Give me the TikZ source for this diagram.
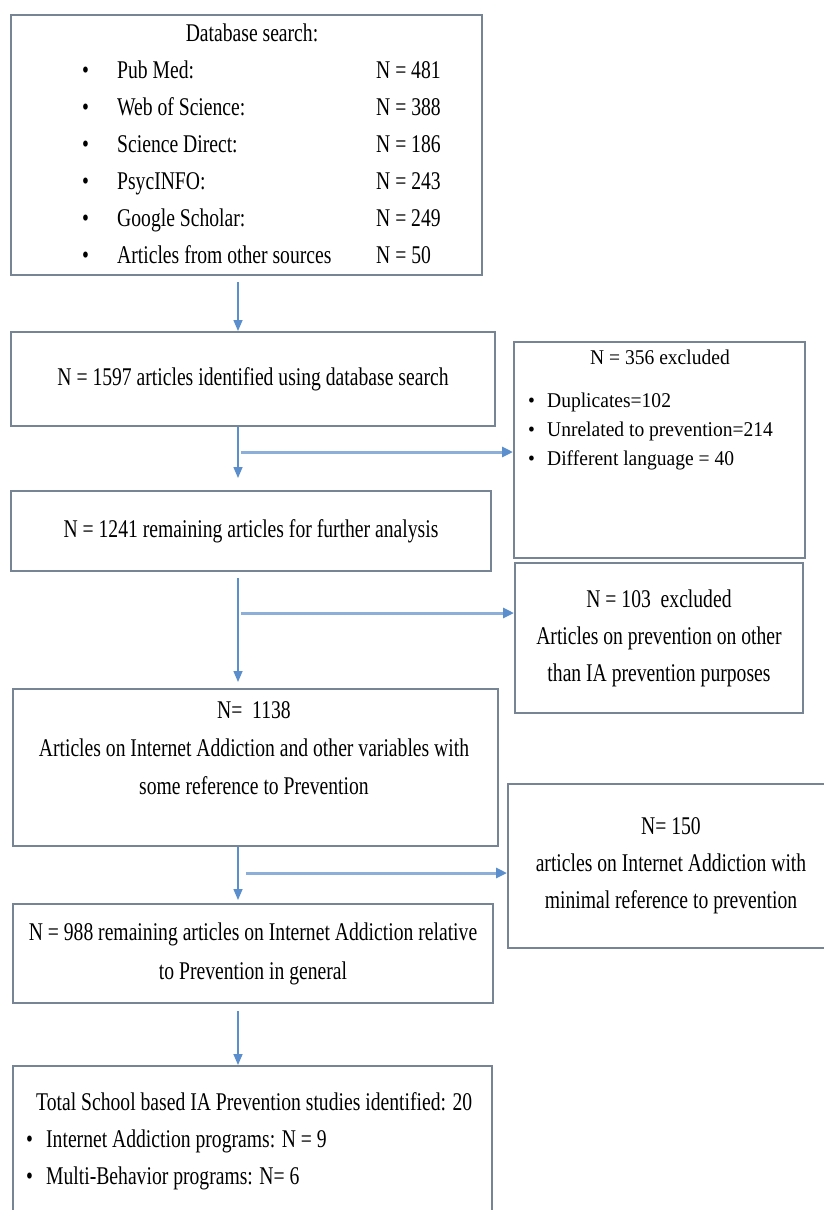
\documentclass[tikz,border=0pt]{standalone}
\usepackage{fontspec}
\setmainfont[FakeStretch=0.77]{Liberation Serif}
\newfontfamily\exclfont[FakeStretch=0.93]{Liberation Serif}
\usepackage{tikz}
\usetikzlibrary{positioning, arrows.meta}
\setlength{\tabcolsep}{0pt}
\definecolor{boxline}{RGB}{118,132,148}
\definecolor{flowblue}{RGB}{91,142,204}
\definecolor{branchblue}{RGB}{140,175,218}
\tikzstyle{box} = [rectangle, draw=boxline, line width=2pt, anchor=north west, inner sep=0pt, align=center, font=\fontsize{25.5}{37}\selectfont]
\tikzstyle{txt} = [inner sep=0pt, align=center, font=\fontsize{25.5}{37}\selectfont]
\tikzstyle{arrow} = [draw=flowblue, line width=1.5pt, -{Triangle[length=11pt,width=9pt]}]
\tikzstyle{branch} = [draw=branchblue, line width=3pt, -{Triangle[length=11pt,width=10pt,color=flowblue]}]

\begin{document}
\begin{tikzpicture}[x=1pt, y=-1pt]
    \useasboundingbox (0,0) rectangle (823,1210);

    % main column
    \node (db) [box, minimum width=471pt, minimum height=260pt] at (10,14) {};
    \node (found) [box, minimum width=484pt, minimum height=94pt] at (10,331) {N = 1597 articles identified using database search};
    \node (remaining) [box, minimum width=480pt, minimum height=80pt] at (10,490) {N = 1241 remaining articles for further analysis};
    \node (topic) [box, minimum width=485pt, minimum height=157pt] at (12,688) {};
    \node (general) [box, minimum width=480pt, minimum height=99pt, font=\fontsize{25.5}{39}\selectfont] at (12,903) {N = 988 remaining articles on Internet Addiction relative\\to Prevention in general};
    \node (final) [box, minimum width=479pt, minimum height=150pt] at (12,1065) {};

    % excluded boxes
    \node (dupl) [box, minimum width=291pt, minimum height=216pt] at (513,341) {};
    \node (offtopic) [box, minimum width=288pt, minimum height=150pt] at (514,562) {N = 103 \ excluded\\Articles on prevention on other\\than IA prevention purposes};
    \node (minimal) [box, minimum width=326pt, minimum height=164pt] at (507,783) {N= 150\\articles on Internet Addiction with\\minimal reference to prevention};

    % texts
    \node (dbtitle) [txt] at (252,33) {Database search:};
    \node (dblist) [txt, anchor=north west] at (82,52.6) {\begin{tabular}{@{}p{35pt}p{259pt}l@{}}
        • & Pub Med: & N = 481\\
        • & Web of Science: & N = 388\\
        • & Science Direct: & N = 186\\
        • & PsycINFO: & N = 243\\
        • & Google Scholar: & N = 249\\
        • & Articles from other sources & N = 50
    \end{tabular}};
    \node (dupltitle) [txt, font=\exclfont\fontsize{21}{29}\selectfont] at (660,357) {N = 356 excluded};
    \node (dupllist) [txt, anchor=north west, font=\exclfont\fontsize{21}{29}\selectfont] at (528,386.7) {\begin{tabular}{@{}p{19pt}l@{}}
        • & Duplicates=102\\
        • & Unrelated to prevention=214\\
        • & Different language = 40
    \end{tabular}};
    \node (topictext) [txt, font=\fontsize{25.5}{38}\selectfont] at (254,748) {N= \ 1138\\Articles on Internet Addiction and other variables with\\some reference to Prevention};
    \node (finaltext) [txt, anchor=north west] at (26,1084.6) {\begin{tabular}{@{}p{20pt}l@{}}
        \multicolumn{2}{@{\hspace{10pt}}l@{}}{Total School based IA Prevention studies identified: 20}\\
        • & Internet Addiction programs: N = 9\\
        • & Multi-Behavior programs: N= 6
    \end{tabular}};

    % connectors
    \coordinate (spine) at (238,0);
    \draw [arrow, shorten <=6pt] (db.south -| spine) -- (found.north -| spine);
    \draw [arrow, shorten >=12pt] (found.south -| spine) -- (remaining.north -| spine);
    \draw [arrow, shorten <=6pt, shorten >=6pt] (remaining.south -| spine) -- (topic.north -| spine);
    \draw [arrow, shorten >=3pt] (topic.south -| spine) -- (general.north -| spine);
    \draw [arrow, shorten <=7pt] (general.south -| spine) -- (final.north -| spine);

    \coordinate (b1) at (241,452);
    \coordinate (b2) at (241,613);
    \coordinate (b3) at (246,873);
    \draw [branch] (b1) -- (b1 -| dupl.west);
    \draw [branch] (b2) -- (b2 -| offtopic.west);
    \draw [branch] (b3) -- (b3 -| minimal.west);
\end{tikzpicture}
\end{document}
